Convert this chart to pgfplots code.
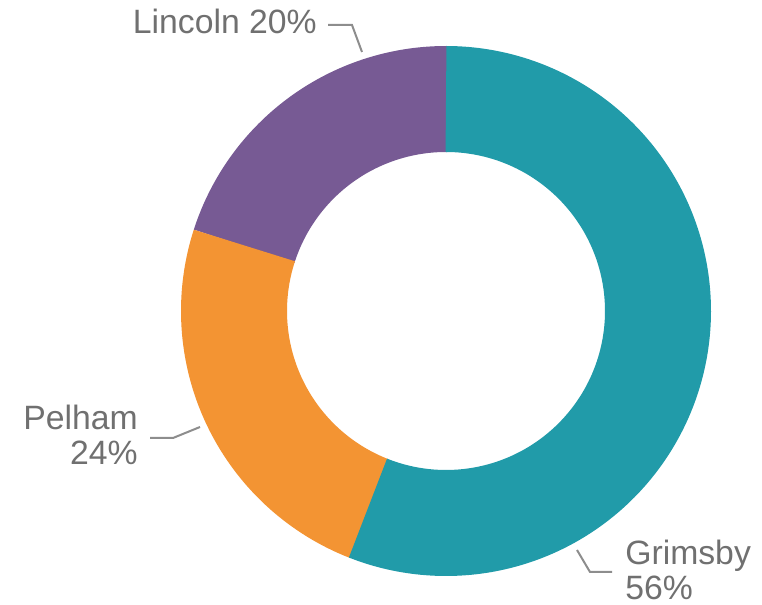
\documentclass[border=0pt]{standalone}
\usepackage{fontspec}
\setmainfont{Liberation Sans}
\usepackage{pgfplots}
\pgfplotsset{compat=1.18}
\definecolor{cGrim}{HTML}{219BA9}
\definecolor{cPel}{HTML}{F39433}
\definecolor{cLin}{HTML}{775A94}
\definecolor{lab}{HTML}{707070}
\begin{document}
\begin{tikzpicture}
\begin{axis}[x=0.25mm, y=0.25mm, xmin=0, xmax=762, ymin=0, ymax=605,
  hide axis, clip=false, scale only axis]
\addplot[draw=none] coordinates {(0,0) (762,605)};
% Donut: Grimsby 56%, Pelham 24%, Lincoln 20% (clockwise from top)
% ring: centre (446,294), mid radius 212, thickness 106
\addplot[draw=cLin, line width=26.5mm, domain=-270.3:-197.8, samples=100, variable=\t]
  ({446+212*cos(t)},{294+212*sin(t)});
\addplot[draw=cPel, line width=26.5mm, domain=-198:-111.3, samples=120, variable=\t]
  ({446+212*cos(t)},{294+212*sin(t)});
\addplot[draw=cGrim, line width=26.5mm, domain=-111.6:90, samples=200, variable=\t]
  ({446+212*cos(t)},{294+212*sin(t)});
% labels
\begin{scope}[font=\fontsize{24}{29}\selectfont, text=lab]
\node[anchor=base east, inner sep=0pt] at (axis cs:317,571) {Lincoln 20\%};
\node[anchor=base east, inner sep=0pt] at (axis cs:138,175) {Pelham};
\node[anchor=base east, inner sep=0pt] at (axis cs:138,140) {24\%};
\node[anchor=base west, inner sep=0pt] at (axis cs:625,40) {Grimsby};
\node[anchor=base west, inner sep=0pt] at (axis cs:625,5) {56\%};
\end{scope}
\draw[lab!80, line width=0.5mm] (axis cs:328,580) -- (axis cs:352,580) -- (axis cs:362,553);
\draw[lab!80, line width=0.5mm] (axis cs:150,167) -- (axis cs:173,167) -- (axis cs:200,178);
\draw[lab!80, line width=0.5mm] (axis cs:577,55) -- (axis cs:590,33) -- (axis cs:612,33);
\end{axis}
\end{tikzpicture}
\end{document}
